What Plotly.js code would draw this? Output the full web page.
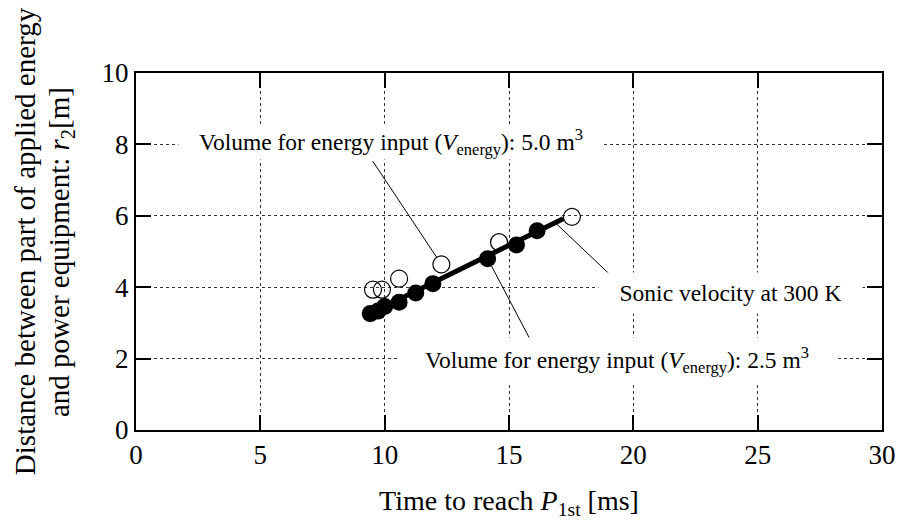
<!DOCTYPE html>
<html>
<head>
<meta charset="utf-8">
<script src="https://cdn.plot.ly/plotly-3.0.1.min.js"></script>
<style>html,body{margin:0;padding:0;background:#fff;}#chart{width:898px;height:525px;}</style>
</head>
<body>
<div id="chart"></div>
<script>
// Filled circles: V_energy = 2.5 m3
const filledX = [9.42, 9.73, 10.0, 10.58, 11.25, 11.94, 14.14, 15.30, 16.13];
const filledY = [3.26, 3.33, 3.46, 3.58, 3.84, 4.10, 4.80, 5.18, 5.58];
// Open circles: V_energy = 5.0 m3
const openX = [9.53, 9.89, 10.58, 12.28, 14.60, 17.53];
const openY = [3.93, 3.93, 4.24, 4.64, 5.26, 5.97];
// Sonic velocity at 300 K line
const sonicX = [9.26, 17.18];
const sonicY = [3.21, 5.92];
// Leader lines (from, to)
const leaderTopX = [9.52, 12.09];
const leaderTopY = [7.53, 4.84];
const leaderBotX = [14.30, 15.84];
const leaderBotY = [4.59, 2.55];
const leaderSonX = [16.84, 19.14];
const leaderSonY = [5.82, 4.30];
// Labels
const labelTop = 'Volume for energy input (<i>V</i><sub>energy</sub>): 5.0 m<sup>3</sup>';
const labelBot = 'Volume for energy input (<i>V</i><sub>energy</sub>): 2.5 m<sup>3</sup>';
const labelSonic = 'Sonic velocity at 300 K';
const xTitle = 'Time to reach <i>P</i><sub>1st</sub> [ms]';
const yTitleLine1 = 'Distance between part of applied energy';
const yTitleLine2 = 'and power equipment: <i>r</i><sub>2</sub>[m]';

const FONT = 'Liberation Serif';

const lineTrace = (x, y) => ({x, y, type: 'scatter', mode: 'lines', line: {color: 'black', width: 1}, hoverinfo: 'skip', showlegend: false});

const data = [
  lineTrace(leaderTopX, leaderTopY),
  lineTrace(leaderBotX, leaderBotY),
  lineTrace(leaderSonX, leaderSonY),
  {x: sonicX, y: sonicY, type: 'scatter', mode: 'lines', line: {color: 'black', width: 5}, showlegend: false},
  {x: filledX, y: filledY, type: 'scatter', mode: 'markers', marker: {symbol: 'circle', size: 17, color: 'black'}, showlegend: false},
  {x: openX, y: openY, type: 'scatter', mode: 'markers', marker: {symbol: 'circle-open', size: 17, color: 'black', line: {width: 1.2, color: 'black'}}, showlegend: false}
];

const axisCommon = {
  showline: true, linecolor: 'black', linewidth: 2, mirror: 'allticks',
  ticks: 'inside', ticklen: 15, tickwidth: 2, tickcolor: 'black',
  showgrid: true, gridcolor: '#333', gridwidth: 1, griddash: '3px,3px',
  zeroline: false, tickfont: {family: FONT, size: 27, color: 'black'}
};

const annFont = {family: FONT, size: 23.5, color: 'black'};
const titleFont = {family: FONT, size: 29, color: 'black'};

const layout = {
  width: 898, height: 525,
  margin: {l: 136, r: 16, t: 73, b: 95},
  paper_bgcolor: 'white', plot_bgcolor: 'white',
  font: {family: FONT, color: 'black'},
  xaxis: Object.assign({}, axisCommon, {
    range: [0, 30], dtick: 5, tick0: 0,
    title: {text: xTitle, font: {family: FONT, size: 28, color: 'black'}, standoff: 21}
  }),
  yaxis: Object.assign({}, axisCommon, {
    range: [0, 10], dtick: 2, tick0: 0
  }),
  annotations: [
    {x: 10.26, y: 8.06, xref: 'x', yref: 'y', text: labelTop, showarrow: false, bgcolor: 'white',
     width: 424, height: 34, borderpad: 0, font: annFont},
    {x: 19.35, y: 1.95, xref: 'x', yref: 'y', text: labelBot, showarrow: false, bgcolor: 'white',
     width: 436, height: 44, borderpad: 0, font: annFont},
    {x: 23.9, y: 3.85, xref: 'x', yref: 'y', text: labelSonic, showarrow: false, bgcolor: 'white',
     width: 263, height: 40, borderpad: 0, font: annFont},
    {x: -0.1488, y: 0.529, xref: 'paper', yref: 'paper', text: yTitleLine1, textangle: -90,
     showarrow: false, xanchor: 'center', yanchor: 'middle', font: titleFont},
    {x: -0.1005, y: 0.4986, xref: 'paper', yref: 'paper', text: yTitleLine2, textangle: -90,
     showarrow: false, xanchor: 'center', yanchor: 'middle', font: titleFont}
  ]
};

Plotly.newPlot('chart', data, layout, {staticPlot: true, displayModeBar: false});
</script>
</body>
</html>
